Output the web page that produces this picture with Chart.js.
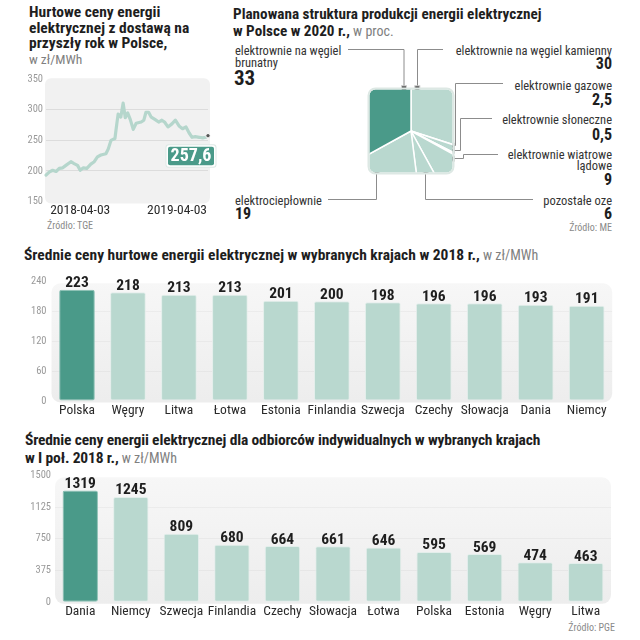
<!DOCTYPE html>
<html><head><meta charset="utf-8">
<script src="https://cdn.jsdelivr.net/npm/chart.js@4.4.1/dist/chart.umd.min.js"></script>
<style>
:root{--f:'Liberation Sans Narrow','Roboto Condensed','DejaVu Sans Condensed','Arial Narrow',sans-serif;}
html,body{margin:0;padding:0;background:#fff;}
#wrap{position:relative;width:640px;height:640px;overflow:hidden;font-family:var(--f);color:#1e1e1e;}
.t{position:absolute;white-space:nowrap;}
.b{font-weight:700;}
.lt{font-weight:400;color:#808080;}
.lab{font-size:12.5px;line-height:11.5px;color:#333;}
.r{text-align:right;right:28px;}
.v{font-weight:700;font-size:16px;line-height:16px;color:#1e1e1e;}
.src{font-size:10px;line-height:10px;color:#8a8a8a;}
canvas{position:absolute;}
svg{position:absolute;left:0;top:0;}
</style></head>
<body><div id="wrap">

<div class="t b" style="left:29px;top:5px;font-size:15.5px;line-height:15.7px">Hurtowe ceny energii<br>elektrycznej z dostawą na<br>przyszły rok w Polsce,<br><span class="lt" style="font-size:13.5px">w zł/MWh</span></div>
<div class="t src" style="left:47px;top:221px">Źródło: TGE</div>

<div class="t b" style="left:233px;top:6px;font-size:15.2px;line-height:17.3px">Planowana struktura produkcji energii elektrycznej<br>w Polsce w 2020 r.,<span class="lt" style="font-size:14px"> w proc.</span></div>

<div class="t lab" style="left:235px;top:45px">elektrownie na węgiel<br>brunatny</div>
<div class="t b" id="v6" style="left:234px;top:67.5px;font-size:21px;line-height:21px"></div>
<div class="t lab r" style="top:45px">elektrownie na węgiel kamienny</div>
<div class="t v r" id="v0" style="top:56px"></div>
<div class="t lab r" style="top:79.5px">elektrownie gazowe</div>
<div class="t v r" id="v1" style="top:92px"></div>
<div class="t lab r" style="top:113.5px">elektrownie słoneczne</div>
<div class="t v r" id="v2" style="top:127px"></div>
<div class="t lab r" style="top:148.5px">elektrownie wiatrowe<br>lądowe</div>
<div class="t v r" id="v3" style="top:172px"></div>
<div class="t lab r" style="top:194.5px">pozostałe oze</div>
<div class="t v r" id="v4" style="top:206px"></div>
<div class="t lab" style="left:235px;top:194.5px">elektrociepłownie</div>
<div class="t v" id="v5" style="left:235px;top:206px"></div>
<div class="t src r" style="top:223px">Źródło: ME</div>

<svg width="640" height="240">
 <g fill="none" stroke="#8c8c8c" stroke-width="1">
  <polyline points="348,49.5 404,49.5 404,88"/>
  <polyline points="417.5,88 417.5,49.5 443,49.5"/>
  <polyline points="452,145.5 455.5,145.5 455.5,83.5 503,83.5"/>
  <polyline points="452,150.5 460.5,150.5 460.5,118.5 492,118.5"/>
  <polyline points="452,158.5 463.5,158.5 463.5,154.5 498,154.5"/>
  <polyline points="376.5,171 376.5,199.5 328,199.5"/>
  <polyline points="425.5,171 425.5,199.5 533,199.5"/>
 </g>
 <g fill="#4a4a4a" stroke="#c9c9c9" stroke-width="1">
  <rect x="401.5" y="85.8" width="5" height="5"/>
  <rect x="414.8" y="85.8" width="5" height="5"/>
  <rect x="449.2" y="143.2" width="5" height="5"/>
  <rect x="449.2" y="148.2" width="5" height="5"/>
  <rect x="449.2" y="156.2" width="5" height="5"/>
  <rect x="374.2" y="168.2" width="5" height="5"/>
  <rect x="423.2" y="168.2" width="5" height="5"/>
 </g>
</svg>

<div class="t b" style="left:24px;top:247px;font-size:15.5px;line-height:17px">Średnie ceny hurtowe energii elektrycznej w wybranych krajach w 2018 r.,<span class="lt" style="font-size:14px"> w zł/MWh</span></div>
<div class="t b" style="left:25px;top:432px;font-size:15.5px;line-height:17.5px;letter-spacing:-0.15px">Średnie ceny energii elektrycznej dla odbiorców indywidualnych w wybranych krajach<br>w I poł. 2018 r.,<span class="lt" style="font-size:14px;letter-spacing:0"> w zł/MWh</span></div>
<div class="t src" style="right:25px;top:623px">Źródło: PGE</div>

<canvas id="c1" width="225" height="160" style="left:0;top:70px"></canvas>
<canvas id="c2" width="130" height="130" style="left:345.5px;top:65.5px"></canvas>
<canvas id="c3" width="640" height="155" style="left:0;top:270px"></canvas>
<canvas id="c4" width="640" height="160" style="left:0;top:465px"></canvas>
</div>
<script>
// ---------- data ----------
const priceDates = ['2017-11-25','2017-12-07','2017-12-20','2018-01-02','2018-01-14','2018-01-27','2018-02-08','2018-02-27','2018-03-11','2018-03-24','2018-04-03','2018-04-15','2018-04-28','2018-05-13','2018-05-26','2018-06-07','2018-06-20','2018-07-09','2018-07-18','2018-07-28','2018-08-12','2018-08-19','2018-08-24','2018-09-03','2018-09-12','2018-09-20','2018-09-29','2018-10-09','2018-10-20','2018-10-31','2018-11-19','2018-11-29','2018-12-07','2018-12-17','2018-12-27','2019-01-11','2019-01-24','2019-02-05','2019-02-15','2019-02-28','2019-03-15','2019-03-28','2019-04-12','2019-04-24','2019-05-07','2019-05-19','2019-05-30','2019-06-11','2019-06-26','2019-07-09','2019-07-21','2019-07-29'];
const priceValues = [193,198,201,199,204,205,209,215,212,209,201,205,204,211,215,223,226,228,236,250,253,277,293,288,311,287,295,284,268,278,280,283,296,296,288,284,280,283,280,272,277,283,273,269,272,262,255,256,255,254,255,257.6];
const priceTickDates = ['2018-04-03','2019-04-03'];
const priceYTicks = [150,200,250,300,350];

const mixLabels = ['elektrownie na węgiel kamienny','elektrownie gazowe','elektrownie słoneczne','elektrownie wiatrowe lądowe','pozostałe oze','elektrociepłownie','elektrownie na węgiel brunatny'];
const mixValues = [30,2.5,0.5,9,6,19,33];

const wholesaleCountries = ['Polska','Węgry','Litwa','Łotwa','Estonia','Finlandia','Szwecja','Czechy','Słowacja','Dania','Niemcy'];
const wholesaleValues = [223,218,213,213,201,200,198,196,196,193,191];
const wholesaleYTicks = [0,60,120,180,240];

const retailCountries = ['Dania','Niemcy','Szwecja','Finlandia','Czechy','Słowacja','Łotwa','Polska','Estonia','Węgry','Litwa'];
const retailValues = [1319,1245,809,680,664,661,646,595,569,474,463];
const retailYTicks = [0,375,750,1125,1500];

// ---------- helpers ----------
const FONT = "'Liberation Sans Narrow','Roboto Condensed','DejaVu Sans Condensed','Arial Narrow',sans-serif";
const DARK = '#4a9a89', LIGHT = '#b9d8cf';
const dayOf = s => Date.parse(s + 'T00:00:00Z') / 86400000;
const fmtPL = v => String(v).replace('.', ',');

mixValues.forEach((v, i) => { document.getElementById('v' + i).textContent = fmtPL(v); });

function bgPlugin(pad, radius, gradient) {
  return {
    id: 'bg',
    beforeDraw(ch) {
      const a = ch.chartArea, c = ch.ctx;
      c.save();
      if (gradient) {
        const g = c.createLinearGradient(0, a.top, 0, a.bottom);
        g.addColorStop(0, '#f7f7f7'); g.addColorStop(1, '#ededed');
        c.fillStyle = g;
      } else c.fillStyle = '#f1f1f1';
      c.beginPath();
      c.roundRect(a.left - pad[0], a.top - pad[1], a.width + pad[0] + pad[2], a.height + pad[1] + pad[3], radius);
      c.fill();
      c.restore();
    }
  };
}

const valueLabels = {
  id: 'valueLabels',
  afterDatasetsDraw(ch) {
    const c = ch.ctx, meta = ch.getDatasetMeta(0), ds = ch.data.datasets[0];
    c.save();
    c.font = `700 15.5px ${FONT}`;
    c.fillStyle = '#1e1e1e';
    c.textAlign = 'center';
    c.textBaseline = 'alphabetic';
    meta.data.forEach((bar, i) => c.fillText(fmtPL(ds.data[i]), bar.x, bar.y - 2.5));
    c.restore();
  }
};

const lastLabel = {
  id: 'lastLabel',
  afterDatasetsDraw(ch) {
    const c = ch.ctx, meta = ch.getDatasetMeta(0);
    const p = meta.data[meta.data.length - 1];
    const txt = fmtPL(priceValues[priceValues.length - 1]);
    const x = p.x - 41, y = p.y + 10, w = 48, h = 20.5;
    c.save();
    c.beginPath(); c.roundRect(x - 1.5, y - 1.5, w + 3, h + 3, 3); c.fillStyle = '#dfe9e6'; c.fill();
    c.beginPath(); c.roundRect(x - 0.5, y - 0.5, w + 1, h + 1, 2.5); c.fillStyle = '#ffffff'; c.fill();
    c.beginPath(); c.roundRect(x + 1, y + 1, w - 2, h - 2, 2); c.fillStyle = DARK; c.fill();
    c.font = `700 18px ${FONT}`; c.fillStyle = '#fff'; c.textAlign = 'center'; c.textBaseline = 'middle';
    c.fillText(txt, x + w / 2, y + h / 2 + 0.5);
    c.restore();
  }
};

// ---------- chart 1: line ----------
new Chart(document.getElementById('c1'), {
  type: 'line',
  data: { datasets: [{
    data: priceDates.map((d, i) => ({ x: dayOf(d), y: priceValues[i] })),
    borderColor: '#b5d6cc', borderWidth: 3.2, tension: 0,
    borderJoinStyle: 'round', borderCapStyle: 'round',
    pointRadius: c => c.dataIndex === priceValues.length - 1 ? 2.2 : 0,
    pointBackgroundColor: '#555', pointBorderColor: '#fff', pointBorderWidth: 1, clip: false
  }] },
  options: {
    responsive: false, animation: false, events: [],
    layout: { padding: { top: 8.6, right: 17, bottom: 0, left: 0 } },
    plugins: { legend: { display: false }, tooltip: { enabled: false } },
    scales: {
      x: {
        type: 'linear', min: dayOf(priceDates[0]), max: dayOf(priceDates[priceDates.length - 1]),
        afterFit: s => { s.height = 28.6; },
        afterBuildTicks: s => { s.ticks = priceTickDates.map(d => ({ value: dayOf(d) })); },
        ticks: { callback: v => new Date(v * 86400000).toISOString().slice(0, 10), font: { family: FONT, size: 13.5 }, color: '#2a2a2a', padding: 1, maxRotation: 0, autoSkip: false },
        grid: { display: false, drawTicks: false }, border: { display: false }
      },
      y: {
        min: 150, max: 350,
        afterFit: s => { s.width = 46; },
        afterBuildTicks: s => { s.ticks = priceYTicks.map(v => ({ value: v })); },
        ticks: { callback: v => String(v), font: { family: FONT, size: 10.5 }, color: '#9a9a9a', padding: 3 },
        grid: { color: c => (c.tick && (c.tick.value === 150 || c.tick.value === 350)) ? 'rgba(0,0,0,0)' : '#dcdcdc', drawTicks: false, lineWidth: 1 },
        border: { display: false }
      }
    }
  },
  plugins: [bgPlugin([1, 1, 2, 2], 6, false), lastLabel]
});

// ---------- chart 2: pie clipped to rounded square ----------
const HALF = 41.5;
new Chart(document.getElementById('c2'), {
  type: 'pie',
  data: { labels: mixLabels, datasets: [{
    data: mixValues,
    backgroundColor: mixValues.map((v, i) => i === mixValues.length - 1 ? DARK : LIGHT),
    borderColor: '#ffffff', borderWidth: 1.5
  }] },
  options: { responsive: false, animation: false, events: [], rotation: 0,
    plugins: { legend: { display: false }, tooltip: { enabled: false } } },
  plugins: [{
    id: 'clipSquare',
    beforeDatasetsDraw(ch) {
      const m = ch.getDatasetMeta(0).data[0], c = ch.ctx;
      c.save(); c.beginPath(); c.roundRect(m.x - HALF, m.y - HALF, HALF * 2, HALF * 2, 6); c.clip();
    },
    afterDatasetsDraw(ch) {
      const m = ch.getDatasetMeta(0).data[0], c = ch.ctx;
      c.restore();
      c.save(); c.beginPath(); c.roundRect(m.x - HALF - 1, m.y - HALF - 1, HALF * 2 + 2, HALF * 2 + 2, 7);
      c.strokeStyle = '#dde8e4'; c.lineWidth = 2; c.stroke(); c.restore();
    }
  }]
});

// ---------- bar charts ----------
function barChart(id, labels, values, yTicks, area, xPad) {
  return new Chart(document.getElementById(id), {
    type: 'bar',
    data: { labels, datasets: [{
      data: values,
      backgroundColor: values.map((v, i) => i === 0 ? DARK : LIGHT),
      borderColor: values.map((v, i) => i === 0 ? '#8cc1b5' : '#e3eeeb'),
      borderWidth: 1, borderRadius: 2, borderSkipped: false,
      barPercentage: 0.7, categoryPercentage: 1
    }] },
    options: {
      responsive: false, animation: false, events: [],
      layout: { padding: { top: area.top, right: area.right, bottom: 0, left: 0 } },
      plugins: { legend: { display: false }, tooltip: { enabled: false } },
      scales: {
        x: {
          afterFit: s => { s.height = area.xh; },
          ticks: { font: { family: FONT, size: 13.5 }, color: '#2a2a2a', padding: xPad, maxRotation: 0, autoSkip: false },
          grid: { display: false, drawTicks: false }, border: { display: false }
        },
        y: {
          min: yTicks[0], max: yTicks[yTicks.length - 1],
          afterFit: s => { s.width = area.left; },
          afterBuildTicks: s => { s.ticks = yTicks.map(v => ({ value: v })); },
          ticks: { callback: v => String(v), font: { family: FONT, size: 10.5 }, color: '#9a9a9a', padding: area.ypad },
          grid: { color: c => (c.tick && (c.tick.value === yTicks[0] || c.tick.value === yTicks[yTicks.length - 1])) ? 'rgba(0,0,0,0)' : 'rgba(0,0,0,0.035)', drawTicks: false },
          border: { display: false }
        }
      }
    },
    plugins: [bgPlugin([0, -2, 0, 1.5], 9, true), valueLabels]
  });
}

barChart('c3', wholesaleCountries, wholesaleValues, wholesaleYTicks,
  { left: 51.5, right: 27.8, top: 10.7, xh: 24, ypad: 5 }, 1.2);
barChart('c4', retailCountries, retailValues, retailYTicks,
  { left: 55, right: 29, top: 10, xh: 22.7, ypad: 4 }, 1.6);
</script>
</body></html>
